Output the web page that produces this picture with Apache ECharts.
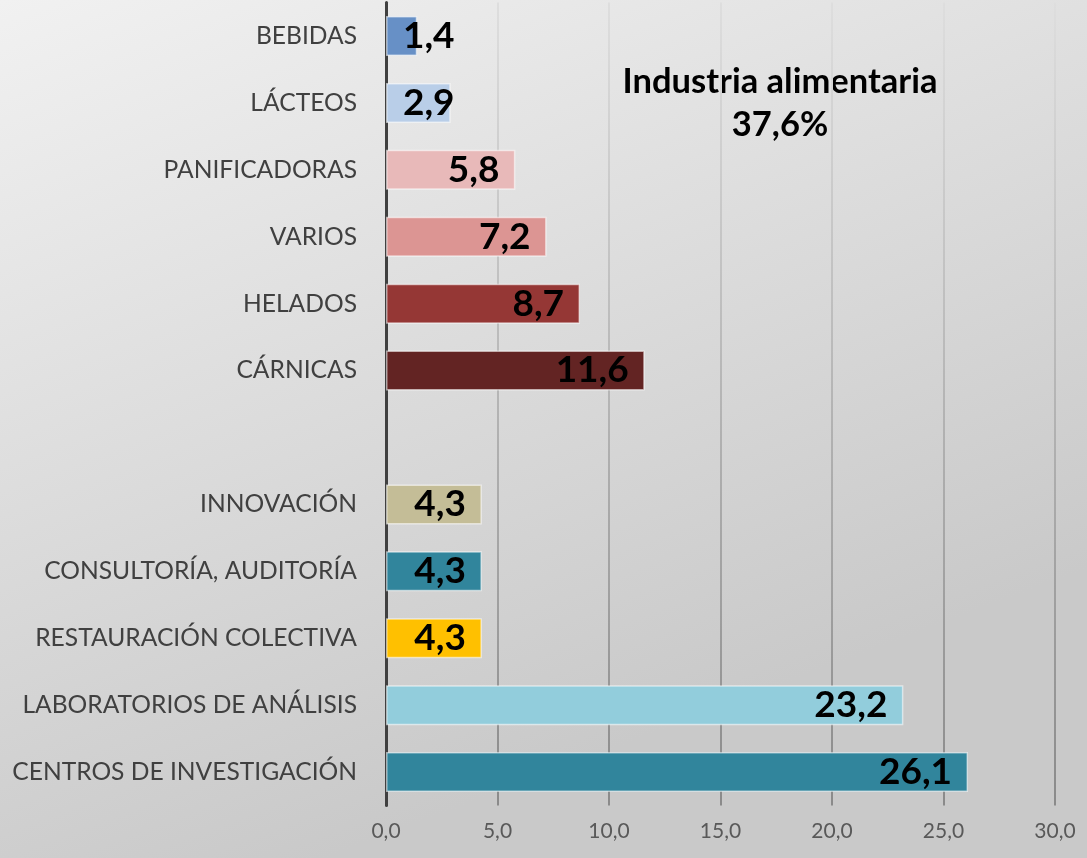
<!DOCTYPE html>
<html>
<head>
<meta charset="utf-8">
<script src="https://cdn.jsdelivr.net/npm/echarts@6/dist/echarts.min.js"></script>
<style>
  html, body { margin: 0; padding: 0; }
  #chart { width: 1087px; height: 858px; }
</style>
</head>
<body>
<div id="chart"></div>
<script>
// Sectors, listed top to bottom; the empty entry separates the food-industry group
const categories = [
  'BEBIDAS', 'LÁCTEOS', 'PANIFICADORAS', 'VARIOS', 'HELADOS', 'CÁRNICAS',
  '',
  'INNOVACIÓN', 'CONSULTORÍA, AUDITORÍA', 'RESTAURACIÓN COLECTIVA',
  'LABORATORIOS DE ANÁLISIS', 'CENTROS DE INVESTIGACIÓN'
];
// Percentage per sector
const values = [1.4, 2.9, 5.8, 7.2, 8.7, 11.6, null, 4.3, 4.3, 4.3, 23.2, 26.1];
// Fill colour per sector
const barColors = [
  '#6790c6', '#b9cee8', '#e8b9b9', '#dc9593', '#953735', '#632423',
  '#ffffff',
  '#c4bd97', '#31859c', '#ffc000', '#92cddc', '#31859c'
];
const xTicks = { min: 0, max: 30, step: 5 };
const groupNote = ['Industria alimentaria', '37,6%'];

const fmt = v => v.toFixed(1).replace('.', ',');
const FONT = 'Lato, "Open Sans", sans-serif';

const data = values.map((v, i) => {
  if (v === null) return { value: null };
  // short bars: value text starts from the axis instead of the bar end
  const small = v < 4;
  return {
    value: v,
    itemStyle: { color: barColors[i] },
    label: small ? { position: 'insideLeft', distance: 17 } : { position: 'insideRight', distance: 16 }
  };
});

const chart = echarts.init(document.getElementById('chart'), null, { renderer: 'canvas' });
chart.setOption({
  backgroundColor: new echarts.graphic.LinearGradient(0, 0, 0.3, 1, [
    { offset: 0, color: '#f1f1f1' },
    { offset: 1, color: '#c9c9c9' }
  ]),
  animation: false,
  grid: { left: 386, right: 32, top: 2.5, bottom: 52.5, containLabel: false },
  xAxis: {
    type: 'value',
    min: xTicks.min, max: xTicks.max, interval: xTicks.step,
    axisLine: { show: false },
    axisTick: { show: false },
    axisLabel: {
      formatter: v => fmt(v),
      color: '#595959', fontFamily: FONT, fontSize: 21, margin: 15
    },
    splitLine: {
      show: true,
      lineStyle: {
        width: 2,
        color: new echarts.graphic.LinearGradient(0, 0, 0, 806, [
          { offset: 0, color: '#dedede' },
          { offset: 1, color: '#8a8a8a' }
        ], true)
      }
    }
  },
  yAxis: {
    type: 'category',
    data: categories,
    inverse: true,
    axisLine: { show: true, lineStyle: { color: '#404040', width: 3 } },
    axisTick: { show: false },
    splitLine: { show: false },
    axisLabel: { color: '#404040', fontFamily: FONT, fontSize: 24.6, margin: 29 }
  },
  series: [{
    type: 'bar',
    data: data,
    barWidth: 40,
    itemStyle: { borderColor: 'rgba(255,255,255,0.55)', borderWidth: 1.5 },
    label: {
      show: true,
      formatter: p => fmt(p.value),
      color: '#000000', fontFamily: FONT, fontWeight: 'bold', fontSize: 37
    }
  }],
  graphic: [{
    type: 'text',
    left: 780 - 200, top: 60,
    style: {
      text: groupNote.join('\n'),
      width: 400,
      x: 200,
      textAlign: 'center',
      fill: '#000000',
      font: 'bold 34.5px ' + FONT,
      lineHeight: 43
    }
  }]
});
</script>
</body>
</html>
